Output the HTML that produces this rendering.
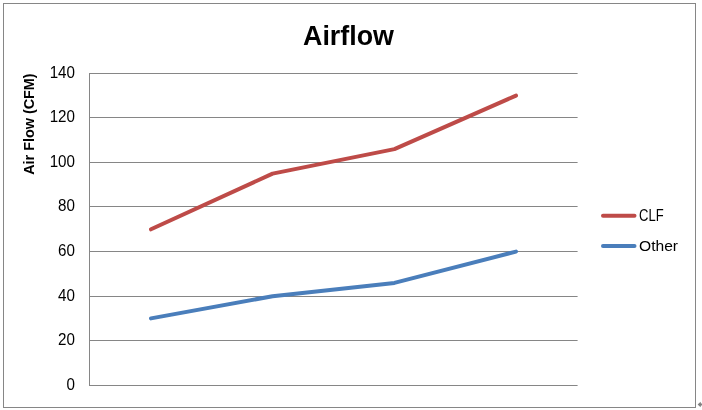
<!DOCTYPE html>
<html><head><meta charset="utf-8">
<style>
html,body{margin:0;padding:0;background:#fff;width:702px;height:410px;overflow:hidden}
svg{display:block;will-change:transform}
text{font-family:"Liberation Sans",sans-serif;fill:#000}
</style></head><body>
<svg width="702" height="410" viewBox="0 0 702 410">
<rect x="0" y="0" width="702" height="410" fill="#fff"/>
<!-- chart border -->
<rect x="3.5" y="3.5" width="692" height="404" fill="none" stroke="#868686" stroke-width="1"/>
<!-- gridlines -->
<g stroke="#868686" stroke-width="1" fill="none">
<line x1="89" y1="73.5" x2="577.6" y2="73.5"/>
<line x1="89" y1="117.5" x2="577.6" y2="117.5"/>
<line x1="89" y1="162.5" x2="577.6" y2="162.5"/>
<line x1="89" y1="206.5" x2="577.6" y2="206.5"/>
<line x1="89" y1="251.5" x2="577.6" y2="251.5"/>
<line x1="89" y1="296.5" x2="577.6" y2="296.5"/>
<line x1="89" y1="340.5" x2="577.6" y2="340.5"/>
<line x1="89" y1="385.5" x2="577.6" y2="385.5"/>
<line x1="89.5" y1="73" x2="89.5" y2="386"/>
</g>
<!-- title -->
<text x="303" y="45" font-size="27" font-weight="bold" textLength="91" lengthAdjust="spacingAndGlyphs">Airflow</text>
<!-- y labels -->
<g font-size="16" text-anchor="end" transform="translate(75,0) scale(0.95,1) translate(-75,0)">
<text x="75" y="78.3">140</text>
<text x="75" y="122.3">120</text>
<text x="75" y="167.3">100</text>
<text x="75" y="211.3">80</text>
<text x="75" y="256.3">60</text>
<text x="75" y="301.3">40</text>
<text x="75" y="345.3">20</text>
<text x="75" y="390.3">0</text>
</g>
<!-- y title -->
<text transform="translate(34,124.1) rotate(-90)" font-size="14.5" font-weight="bold" text-anchor="middle" textLength="101.5" lengthAdjust="spacingAndGlyphs">Air Flow (CFM)</text>
<!-- series -->
<polyline points="151,229.3 272.6,173.6 394.4,149.1 516,95.6" fill="none" stroke="#BE4B48" stroke-width="4" stroke-linecap="round" stroke-linejoin="round"/>
<polyline points="151,318.4 272.6,296.2 394.4,282.9 516,251.6" fill="none" stroke="#4A7EBB" stroke-width="4" stroke-linecap="round" stroke-linejoin="round"/>
<!-- legend -->
<line x1="603" y1="215.8" x2="634.5" y2="215.8" stroke="#BE4B48" stroke-width="4" stroke-linecap="round"/>
<line x1="603" y1="246.1" x2="634.5" y2="246.1" stroke="#4A7EBB" stroke-width="4" stroke-linecap="round"/>
<g font-size="15.6">
<text x="639" y="221" textLength="24.6" lengthAdjust="spacingAndGlyphs">CLF</text>
<text x="639" y="251" font-size="15.5" textLength="39" lengthAdjust="spacingAndGlyphs">Other</text>
</g>
<!-- resize glyph -->
<path d="M697.6,404.5 L700.6,401.8 L700.9,403.6 L702,403.6 L702,405.4 L700.9,405.4 L700.6,407.2 Z" fill="#808080"/>
</svg>
</body></html>
